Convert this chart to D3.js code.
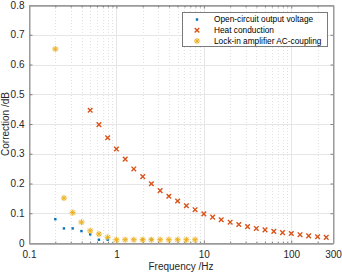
<!DOCTYPE html>
<html><head><meta charset="utf-8">
<script src="https://cdn.jsdelivr.net/npm/d3@7"></script>
<style>html,body{margin:0;padding:0;background:#fff;} svg{display:block;font-family:"Liberation Sans",Arial,sans-serif;}</style>
</head><body>
<script>
// ---- data ----
const openFreq = [0.2, 0.251, 0.316, 0.398, 0.501, 0.631, 0.794, 2.0, 2.51];
const openVals = [0.080, 0.049, 0.049, 0.040, 0.029, 0.011, 0.011, 0.011, 0.011];

const heatFreq = [0.501, 0.631, 0.794, 1.0, 1.26, 1.58, 2.0, 2.51, 3.16, 3.98, 5.01, 6.31, 7.94, 10, 12.6, 15.8, 20.0, 25.1, 31.6, 39.8, 50.1, 63.1, 79.4, 100, 126, 158, 200, 251];
const heatVals = [0.446, 0.398, 0.354, 0.316, 0.282, 0.249, 0.223, 0.199, 0.176, 0.157, 0.141, 0.125, 0.112, 0.098, 0.087, 0.078, 0.070, 0.062, 0.055, 0.049, 0.044, 0.039, 0.035, 0.032, 0.028, 0.024, 0.021, 0.019];

const lockFreq = [0.2, 0.251, 0.316, 0.398, 0.501, 0.631, 0.794, 1.0, 1.26, 1.58, 2.0, 2.51, 3.16, 3.98, 5.01, 6.31, 7.94];
const lockVals = [0.652, 0.151, 0.102, 0.070, 0.041, 0.030, 0.019, 0.011, 0.011, 0.011, 0.011, 0.011, 0.011, 0.011, 0.011, 0.011, 0.011];

const xTicks = [0.1, 1, 10, 100, 300];
const xTickLabels = ["0.1", "1", "10", "100", "300"];
const yTicks = [0, 0.1, 0.2, 0.3, 0.4, 0.5, 0.6, 0.7, 0.8];
const yTickLabels = ["0", "0.1", "0.2", "0.3", "0.4", "0.5", "0.6", "0.7", "0.8"];
const seriesNames = ["Open-circuit output voltage", "Heat conduction", "Lock-in amplifier AC-coupling"];
const xLabel = "Frequency /Hz";
const yLabel = "Correction /dB";

// ---- layout ----
const W = 342, H = 274;
const L = 29, R = 333, T = 5, B = 243;
const cBlue = "#0072BD", cRed = "#D95319", cYel = "#EDB120";

const svg = d3.select("body").append("svg").attr("width", W).attr("height", H);
const x = d3.scaleLog().domain([0.1, 300]).range([L, R]);
const y = d3.scaleLinear().domain([0, 0.8]).range([B, T]);

// minor ticks
const minor = [];
for (let d = 0.1; d < 300; d *= 10) for (let k = 2; k <= 9; k++) { const v = d * k; if (v < 300) minor.push(v); }
const majorX = [0.1, 1, 10, 100];

const g = svg.append("g");
g.selectAll(".mg").data(minor).join("line")
  .attr("x1", d => Math.round(x(d)) + 0.5).attr("x2", d => Math.round(x(d)) + 0.5)
  .attr("y1", T).attr("y2", B)
  .attr("stroke", "#e2e2e2").attr("stroke-width", 1).attr("stroke-dasharray", "1,2");
g.selectAll(".gx").data(majorX.slice(1)).join("line")
  .attr("x1", d => Math.round(x(d)) + 0.5).attr("x2", d => Math.round(x(d)) + 0.5)
  .attr("y1", T).attr("y2", B).attr("stroke", "#e6e6e6");
g.selectAll(".gy").data(yTicks.slice(1, -1)).join("line")
  .attr("y1", d => Math.round(y(d)) + 0.5).attr("y2", d => Math.round(y(d)) + 0.5)
  .attr("x1", L).attr("x2", R).attr("stroke", "#e6e6e6");

const axCol = "#9a9a9a", txtCol = "#262626";
const xAxisB = d3.axisBottom(x).tickValues(xTicks).tickFormat((d, i) => xTickLabels[i]).tickSizeInner(-3).tickSizeOuter(0).tickPadding(7);
svg.append("g").attr("transform", `translate(0,${B + 0.5})`).call(xAxisB);
const xAxisBm = d3.axisBottom(x).tickValues(minor).tickFormat("").tickSizeInner(-2).tickSizeOuter(0);
svg.append("g").attr("transform", `translate(0,${B + 0.5})`).call(xAxisBm);
const xAxisT = d3.axisTop(x).tickValues(xTicks).tickFormat("").tickSizeInner(-3).tickSizeOuter(0);
svg.append("g").attr("transform", `translate(0,${T + 0.5})`).call(xAxisT);
const xAxisTm = d3.axisTop(x).tickValues(minor).tickFormat("").tickSizeInner(-2).tickSizeOuter(0);
svg.append("g").attr("transform", `translate(0,${T + 0.5})`).call(xAxisTm);
const yAxisL = d3.axisLeft(y).tickValues(yTicks).tickFormat((d, i) => yTickLabels[i]).tickSizeInner(-3).tickSizeOuter(0).tickPadding(5);
svg.append("g").attr("transform", `translate(${L + 0.5},0)`).call(yAxisL);
const yAxisR = d3.axisRight(y).tickValues(yTicks).tickFormat("").tickSizeInner(-3).tickSizeOuter(0);
svg.append("g").attr("transform", `translate(${R + 0.5},0)`).call(yAxisR);

svg.selectAll(".domain").attr("stroke", axCol);
svg.selectAll(".tick line").attr("stroke", "#555").attr("stroke-width", 0.7);
svg.selectAll(".tick text").attr("fill", txtCol).style("font-size", "10px").style("font-family", "'Liberation Sans',Arial,sans-serif");

svg.append("rect").attr("x", L + 0.5).attr("y", T + 0.5).attr("width", R - L).attr("height", B - T)
  .attr("fill", "none").attr("stroke", axCol);

function dot(sel, c) {
  sel.append("rect").attr("x", -1.2).attr("y", -1.2).attr("width", 2.4).attr("height", 2.4).attr("fill", c);
}
function cross(sel, c) {
  sel.append("path").attr("d", "M-2.3,-2.3L2.3,2.3M-2.3,2.3L2.3,-2.3").attr("stroke", c).attr("stroke-width", 1.4).attr("fill", "none");
}
function star(sel, c) {
  sel.append("circle").attr("r", 3.3).attr("fill", c).attr("opacity", 0.2);
  sel.append("path").attr("d", "M-2.8,0L2.8,0M0,-2.8L0,2.8M-2,-2L2,2M-2,2L2,-2").attr("stroke", c).attr("stroke-width", 1).attr("fill", "none");
}

const plot = svg.append("g");
plot.selectAll(".pb").data(openFreq.map((f, i) => [f, openVals[i]])).join("g")
  .attr("transform", d => `translate(${x(d[0])},${y(d[1])})`).each(function () { dot(d3.select(this), cBlue); });
plot.selectAll(".pr").data(heatFreq.map((f, i) => [f, heatVals[i]])).join("g")
  .attr("transform", d => `translate(${x(d[0])},${y(d[1])})`).each(function () { cross(d3.select(this), cRed); });
plot.selectAll(".py").data(lockFreq.map((f, i) => [f, lockVals[i]])).join("g")
  .attr("transform", d => `translate(${x(d[0])},${y(d[1])})`).each(function () { star(d3.select(this), cYel); });

svg.append("text").attr("x", (L + R) / 2).attr("y", 269.5).attr("text-anchor", "middle")
  .attr("fill", txtCol).style("font-size", "10px").text(xLabel);
svg.append("text").attr("transform", `translate(8.5,${(T + B) / 2}) rotate(-90)`).attr("text-anchor", "middle")
  .attr("fill", txtCol).style("font-size", "10px").text(yLabel);

const lg = svg.append("g");
lg.append("rect").attr("x", 182.5).attr("y", 12.5).attr("width", 145).attr("height", 34)
  .attr("fill", "#fff").attr("stroke", "#7a7a7a").attr("stroke-width", 1);
const rowsY = [19.5, 30.3, 41];
const markFns = [[dot, cBlue], [cross, cRed], [star, cYel]];
seriesNames.forEach((name, i) => {
  const mg = lg.append("g").attr("transform", `translate(197,${rowsY[i]})`);
  markFns[i][0](mg, markFns[i][1]);
  lg.append("text").attr("x", 214).attr("y", rowsY[i]).attr("dy", "0.35em")
    .attr("fill", "#000").style("font-size", "8.3px").text(name);
});
</script>
</body></html>
